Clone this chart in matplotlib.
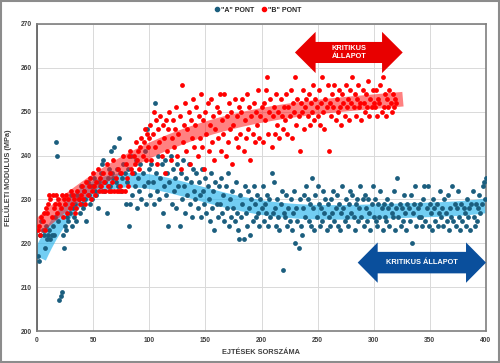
import numpy as np
import matplotlib
matplotlib.use("Agg")
import matplotlib.pyplot as plt
from matplotlib.patches import Polygon, Rectangle
from matplotlib.lines import Line2D

plt.rcParams['font.family'] = ['Liberation Sans', 'DejaVu Sans']

# ---- data ----
a_values = [
    217, 216, 222, 225, 223, 222, 219, 224, 221, 222, 223, 221, 222, 224, 222, 226, 243, 240, 225, 207,
    208, 209, 222, 219, 224, 223, 226, 225, 227, 231, 224, 228, 226, 229, 225, 231, 230, 227, 233, 229,
    228, 232, 230, 225, 234, 231, 229, 233, 230, 233, 235, 232, 231, 228, 234, 233, 236, 238, 239, 232,
    234, 227, 235, 237, 233, 241, 236, 235, 242, 234, 237, 233, 244, 236, 232, 235, 238, 236, 229, 234,
    237, 224, 229, 240, 231, 236, 233, 239, 228, 235, 232, 238, 230, 236, 233, 241, 229, 246, 234, 237,
    231, 238, 234, 229, 252, 236, 232, 240, 230, 235, 238, 227, 233, 239, 231, 236, 224, 234, 240, 229,
    237, 232, 235, 228, 238, 233, 224, 236, 230, 239, 233, 227, 235, 231, 238, 229, 234, 226, 237, 232,
    230, 236, 228, 234, 231, 226, 237, 232, 229, 235, 227, 233, 230, 225, 236, 228, 232, 223, 234, 229,
    226, 233, 229, 235, 227, 231, 225, 233, 228, 236, 224, 230, 226, 232, 228, 225, 234, 227, 223, 221,
    231, 226, 229, 221, 233, 227, 224, 232, 228, 222, 230, 225, 233, 229, 226, 231, 227, 224, 230, 228,
    233, 225, 229, 227, 231, 224, 230, 226, 236, 227, 234, 228, 224, 230, 226, 223, 229, 232, 214, 227,
    226, 231, 224, 228, 225, 230, 223, 227, 232, 220, 228, 225, 219, 230, 224, 222, 228, 231, 226, 233,
    230, 225, 229, 224, 235, 228, 223, 231, 226, 233, 229, 224, 228, 225, 232, 227, 230, 223, 229, 226,
    224, 230, 227, 232, 225, 228, 231, 224, 229, 223, 227, 233, 228, 225, 230, 226, 224, 229, 232, 227,
    231, 226, 223, 229, 230, 225, 228, 233, 226, 230, 224, 231, 228, 225, 230, 227, 223, 229, 233, 226,
    230, 225, 224, 229, 226, 232, 228, 223, 229, 226, 225, 230, 228, 224, 229, 227, 226, 232, 223, 228,
    235, 226, 229, 224, 228, 225, 231, 227, 223, 229, 228, 225, 231, 220, 227, 229, 233, 224, 228, 226,
    229, 226, 224, 230, 233, 225, 228, 233, 224, 229, 227, 223, 230, 228, 225, 229, 224, 227, 232, 226,
    228, 224, 230, 227, 225, 231, 223, 228, 226, 233, 225, 229, 224, 228, 232, 226, 223, 229, 225, 228,
    227, 224, 230, 226, 228, 223, 229, 232, 226, 224, 229, 225, 228, 231, 227, 229, 233, 234, 230, 235,
]
b_values = [
    223, 224, 222, 226, 225, 227, 223, 228, 227, 229, 231, 230, 226, 231, 228, 229, 231, 227, 230, 229,
    228, 231, 226, 230, 229, 231, 227, 230, 228, 232, 229, 231, 230, 227, 228, 232, 230, 229, 231, 233,
    230, 232, 229, 234, 231, 233, 235, 230, 232, 236, 233, 231, 234, 237, 232, 235, 233, 232, 236, 234,
    232, 238, 233, 232, 236, 232, 234, 239, 232, 235, 232, 237, 232, 233, 236, 232, 240, 232, 238, 235,
    233, 240, 241, 237, 236, 240, 238, 243, 239, 241, 237, 242, 244, 240, 243, 246, 239, 245, 242, 244,
    247, 239, 245, 250, 242, 248, 238, 246, 243, 249, 240, 247, 244, 236, 248, 241, 246, 250, 239, 244,
    248, 242, 246, 251, 240, 245, 249, 237, 256, 243, 247, 252, 241, 246, 250, 238, 248, 244, 253, 242,
    247, 251, 240, 249, 244, 254, 242, 248, 237, 250, 245, 252, 241, 247, 253, 243, 249, 239, 246, 251,
    244, 250, 254, 241, 248, 245, 254, 240, 249, 243, 252, 246, 250, 238, 247, 253, 244, 249, 242, 251,
    245, 250, 253, 241, 248, 244, 254, 246, 251, 239, 249, 245, 252, 243, 250, 247, 255, 244, 249, 251,
    243, 252, 248, 255, 258, 245, 250, 253, 242, 249, 251, 245, 254, 247, 250, 244, 253, 249, 246, 251,
    248, 254, 245, 251, 249, 255, 244, 252, 250, 258, 247, 253, 249, 241, 252, 250, 255, 246, 251, 253,
    249, 254, 247, 252, 250, 256, 248, 253, 251, 249, 255, 247, 252, 258, 250, 246, 253, 251, 256, 241,
    252, 249, 254, 251, 256, 248, 253, 250, 255, 251, 247, 254, 252, 249, 256, 251, 253, 248, 255, 252,
    258, 251, 254, 249, 253, 256, 251, 252, 248, 255, 252, 250, 254, 251, 257, 249, 253, 251, 255, 252,
    251, 255, 249, 253, 252, 256, 250, 258, 251, 254, 249, 253, 251, 255, 252, 250, 254, 251, 253, 252,
]
a_x = list(range(1, len(a_values) + 1))
b_x = list(range(1, len(b_values) + 1))
series_labels = ['"A" PONT', '"B" PONT']
x_ticks = [0, 50, 100, 150, 200, 250, 300, 350, 400]
y_ticks = [200, 210, 220, 230, 240, 250, 260, 270]
x_label = "EJTÉSEK SORSZÁMA"
y_label = "FELÜLETI MODULUS (MPa)"
red_arrow_text = "KRITIKUS\nÁLLAPOT"
blue_arrow_text = "KRITIKUS ÁLLAPOT"

# ---- style ----
col_a = "#1B5E7E"
col_b = "#FF0000"
band_a = "#27B5EE"
band_b = "#FF1A1A"
txt = "#404040"

fig = plt.figure(figsize=(5.0, 3.63), dpi=100)
ax = fig.add_axes([0.074, 0.088, 0.898, 0.846])

ax.set_xlim(0, 400)
ax.set_ylim(200, 270)
ax.set_xticks(x_ticks)
ax.set_yticks(y_ticks)
ax.grid(True, color="#D9D9D9", lw=0.7)
ax.set_axisbelow(True)
ax.tick_params(length=0, labelsize=4.8, colors=txt, pad=4)
for lab in ax.get_xticklabels() + ax.get_yticklabels():
    lab.set_fontweight("bold")
for s in ax.spines.values():
    s.set_color("#7F7F7F")
    s.set_linewidth(1.2)
ax.spines["left"].set_color("#595959")

# trend bands (polynomial fits of the data)
pa = np.polyfit(a_x, a_values, 5)
pb = np.polyfit(b_x, b_values, 3)
xa = np.linspace(2, 400, 300)
xb = np.linspace(0, 326, 300)
ax.plot(xa, np.polyval(pa, xa), color=band_a, lw=10.5, alpha=0.65, solid_capstyle="butt", zorder=2)
ax.scatter(a_x, a_values, s=12, color=col_a, linewidths=0, zorder=3)
ax.plot(xb, np.polyval(pb, xb), color=band_b, lw=10.5, alpha=0.55, solid_capstyle="butt", zorder=4)
ax.scatter(b_x, b_values, s=12, color=col_b, linewidths=0, zorder=5)


def double_arrow(x0, x1, yc, body_h, head_h, head_l, color, text, fs):
    pts = [
        (x0, yc), (x0 + head_l, yc + head_h / 2), (x0 + head_l, yc + body_h / 2),
        (x1 - head_l, yc + body_h / 2), (x1 - head_l, yc + head_h / 2), (x1, yc),
        (x1 - head_l, yc - head_h / 2), (x1 - head_l, yc - body_h / 2),
        (x0 + head_l, yc - body_h / 2), (x0 + head_l, yc - head_h / 2),
    ]
    ax.add_patch(Polygon(pts, closed=True, facecolor=color, edgecolor="none", zorder=6, clip_on=False))
    ax.text((x0 + x1) / 2, yc, text, color="white", fontsize=fs, fontweight="bold",
            ha="center", va="center", zorder=7, linespacing=1.1)


double_arrow(229.8, 325.8, 263.5, 4.8, 9.4, 18.4, "#E80000", red_arrow_text, 5.3)
double_arrow(285.7, 400.0, 215.6, 4.9, 9.2, 17.8, "#0A4F9C", blue_arrow_text, 5.3)

ax.set_xlabel(x_label, fontsize=5.3, fontweight="bold", color=txt, labelpad=4)
ax.set_ylabel(y_label, fontsize=5.3, fontweight="bold", color=txt, labelpad=6)

handles = [
    Line2D([], [], marker="o", ls="none", color=col_a, markersize=3),
    Line2D([], [], marker="o", ls="none", color=col_b, markersize=3),
]
leg = fig.legend(handles, series_labels, loc="center", bbox_to_anchor=(0.515, 0.972), ncol=2,
                 frameon=False, prop={"size": 5, "weight": "bold"}, handletextpad=0.1,
                 columnspacing=0.8, handlelength=1.0)
for t in leg.get_texts():
    t.set_color("#262626")

fig.patches.append(Rectangle((0.002, 0.003), 0.996, 0.994, transform=fig.transFigure,
                             fill=False, edgecolor="#8C8C8C", lw=1.5))

fig.savefig("out.png", dpi=100)
